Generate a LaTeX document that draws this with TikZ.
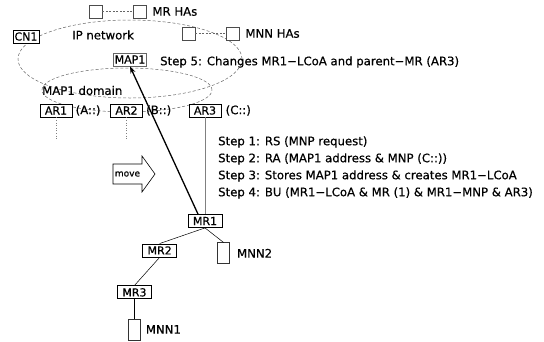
\documentclass[tikz,border=0pt]{standalone}
\usepackage{fontspec}
\setmainfont{DejaVu Sans}[FakeBold=0.5]
\usetikzlibrary{positioning,arrows.meta}

\tikzset{
	box/.style={draw,fill=white,line width=0.8pt,font=\fontsize{11}{13}\selectfont,
		inner xsep=5pt,inner ysep=2.5pt,text height=8pt,text depth=0pt},
	tight/.style={inner xsep=1.5pt},
	ha/.style={draw=black!70,fill=white,line width=0.5pt,minimum size=13pt,inner sep=0pt},
	host/.style={draw=black!80,fill=white,line width=0.5pt,minimum width=12pt,minimum height=21pt,inner sep=0pt},
	lbl/.style={inner sep=0pt,anchor=west},
	zone/.style={draw=black!60,dash pattern=on 3pt off 2pt,line width=0.5pt},
	halink/.style={draw=black!60,dash pattern=on 2pt off 1.5pt,line width=0.5pt},
}

\begin{document}
\begin{tikzpicture}[x=1pt,y=-1pt,font=\fontsize{11.7}{14}\selectfont]
\useasboundingbox (0,0) rectangle (544,341);
\clip (0,0) rectangle (544,341);

\draw[zone] (130,59) ellipse [x radius=112pt, y radius=39pt];
\draw[zone] (127,90) ellipse [x radius=85pt, y radius=22pt];

\node[ha](mrha1) at (95.5,11.5){};
\node[ha](mrha2) at (139.5,11.5){};
\node[lbl,right=6pt of mrha2](mrhas){MR HAs};
\node[ha](mnnha1) at (188.5,33.5){};
\node[ha](mnnha2) at (232.5,33.5){};
\node[lbl,right=6pt of mnnha2](mnnhas){MNN HAs};
\draw[halink] (mrha1) -- (mrha2);
\draw[halink] (mnnha1) -- (mnnha2);

\node[box,tight](cn1) at (26,36.5){CN1};
\node[lbl](ipnet) at (72,35){IP network};
\node[box,tight,draw=black!60](map1) at (130,59.5){MAP1};
\node[lbl](step5) at (160,62){Step 5: Changes MR1−LCoA and parent−MR (AR3)};
\node[lbl](mapdom) at (42,90.5){MAP1 domain};

\node[box](ar1) at (56,110.5){AR1};
\node[box](ar2) at (126.5,110.5){AR2};
\node[box](ar3) at (205,110.5){AR3};
\node[lbl,right=3pt of ar1](pfxa){(A::)};
\node[lbl,right=3pt of ar2](pfxb){(B::)};
\node[lbl,right=4pt of ar3](pfxc){(C::)};
\coordinate (ar1end) at (56,140);
\coordinate (ar2end) at (126.5,140);
\draw[black!50,dotted,line width=0.6pt] (ar1) -- (ar1end);
\draw[black!50,dotted,line width=0.6pt] (ar2) -- (ar2end);

\node[lbl](step1) at (218,142){Step 1: RS (MNP request)};
\node[lbl](step2) at (218,159){Step 2: RA (MAP1 address \& MNP (C::))};
\node[lbl](step3) at (218,176){Step 3: Stores MAP1 address \& creates MR1−LCoA};
\node[lbl](step4) at (218,193){Step 4: BU (MR1−LCoA \& MR (1) \& MR1−MNP \& AR3)};

\draw[line width=0.6pt] (113,164) -- (142,164) -- (142,156) -- (155,174)
	-- (142,192) -- (142,184) -- (113,184) -- cycle;
\node[font=\fontsize{9}{10}\selectfont](move) at (127.5,174){move};

\node[box](mr1) at (205,221){MR1}
	[sibling distance=0pt]
	[parent anchor=south, child anchor=north]
	[edge from parent/.style={draw,line width=0.5pt}]
	child[grow=213.7, level distance=54.1pt]{
		node[box](mr2){MR2}
		child[grow=239.2, level distance=48.9pt]{
			node[box](mr3){MR3}
			child[grow=down, level distance=37pt]{
				node[host](mnn1){}}}}
	child[grow=300.7, level distance=37.2pt]{
		node[host](mnn2){}};
\node[lbl,right=7pt of mnn2](mnn2lbl){MNN2};
\node[lbl,right=5pt of mnn1](mnn1lbl){MNN1};

\draw[black!50,line width=1pt] (ar3) -- (mr1);
\draw[-{Stealth[length=7pt,width=5pt]},line width=1.3pt] ([xshift=-7pt]mr1.north) -- (map1.south);
\end{tikzpicture}
\end{document}
